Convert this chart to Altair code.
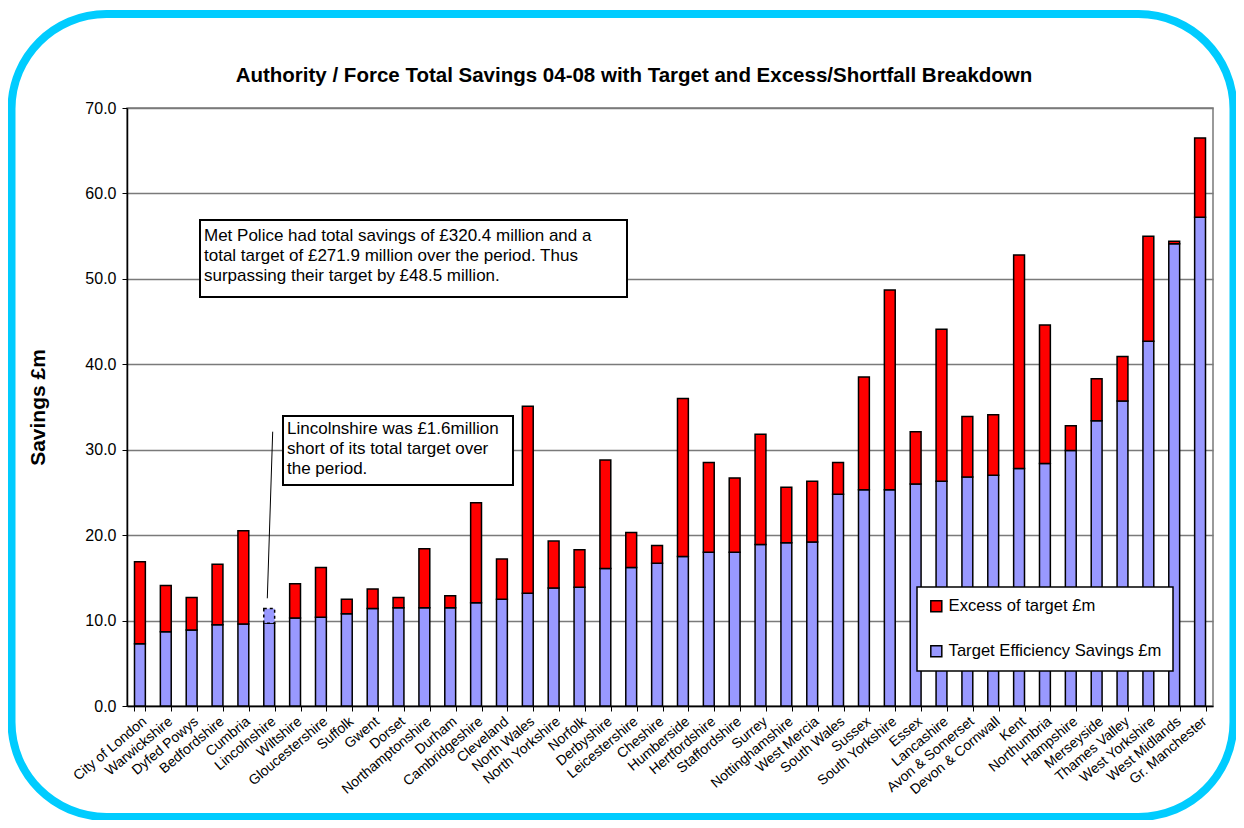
import altair as alt
import pandas as pd

forces = [
    "City of London", "Warwickshire", "Dyfed Powys", "Bedfordshire", "Cumbria",
    "Lincolnshire", "Wiltshire", "Gloucestershire", "Suffolk", "Gwent", "Dorset",
    "Northamptonshire", "Durham", "Cambridgeshire", "Cleveland", "North Wales",
    "North Yorkshire", "Norfolk", "Derbyshire", "Leicestershire", "Cheshire",
    "Humberside", "Hertfordshire", "Staffordshire", "Surrey", "Nottinghamshire",
    "West Mercia", "South Wales", "Sussex", "South Yorkshire", "Essex", "Lancashire",
    "Avon & Somerset", "Devon & Cornwall", "Kent", "Northumbria", "Hampshire",
    "Merseyside", "Thames Valley", "West Yorkshire", "West Midlands", "Gr. Manchester",
]
# Target efficiency savings (£m)
target = [
    7.3, 8.7, 8.9, 9.5, 9.6,
    11.4, 10.3, 10.4, 10.8, 11.4, 11.5,
    11.5, 11.5, 12.1, 12.5, 13.2,
    13.8, 13.9, 16.1, 16.2, 16.7,
    17.5, 18.0, 18.0, 18.9, 19.1,
    19.2, 24.8, 25.3, 25.3, 26.0, 26.3,
    26.8, 27.0, 27.8, 28.4, 29.9,
    33.4, 35.7, 42.7, 54.1, 57.2,
]
# Total savings achieved (£m)
total = [
    16.9, 14.1, 12.7, 16.6, 20.5,
    9.7, 14.3, 16.2, 12.5, 13.7, 12.7,
    18.4, 12.9, 23.8, 17.2, 35.1,
    19.3, 18.3, 28.8, 20.3, 18.8,
    36.0, 28.5, 26.7, 31.8, 25.6,
    26.3, 28.5, 38.5, 48.7, 32.1, 44.1,
    33.9, 34.1, 52.8, 44.6, 32.8,
    38.3, 40.9, 55.0, 54.4, 66.5,
]
series_names = ["Excess of target £m", "Target Efficiency Savings £m"]
series_colors = ["#FF0000", "#9999FF"]
y_ticks = [0, 10, 20, 30, 40, 50, 60, 70]

title_text = "Authority / Force Total Savings 04-08 with Target and Excess/Shortfall Breakdown"
y_title = "Savings £m"
met_note = ("Met Police had total savings of £320.4 million and a\n"
            "total target of £271.9 million over the period. Thus\n"
            "surpassing their target by £48.5 million.")
linc_note = ("Lincolnshire was £1.6million\n"
             "short of its total target over\n"
             "the period.")

FONT = "Liberation Sans"

# ---- data tables built from the arrays ----
rows = []
for f, t, s in zip(forces, target, total):
    rows.append({"force": f, "series": series_names[1], "value": min(t, s), "ord": 0})
    rows.append({"force": f, "series": series_names[0], "value": max(s - t, 0.0), "ord": 1})
bars_df = pd.DataFrame(rows)

short_df = pd.DataFrame([
    {"force": f, "lo": s, "hi": t}
    for f, t, s in zip(forces, target, total) if s < t
])

# Plot area geometry (pixels)
W, H = 1086, 598

xscale = alt.Scale(paddingInner=0.58, paddingOuter=0.29)
yscale = alt.Scale(domain=[0, 70], nice=False)

x_enc = alt.X(
    "force:N", sort=forces, scale=xscale,
    axis=alt.Axis(
        title=None, labelAngle=320, labelAlign="right", labelBaseline="top",
        labelFontSize=14, labelPadding=3, labelColor="black",
        tickBand="extent", tickSize=5, tickColor="black", tickWidth=1,
        domainColor="black", domainWidth=1.5, grid=False, labelOverlap=False,
    ),
)

bars = alt.Chart(bars_df).mark_bar(stroke="black", strokeWidth=1.5).encode(
    x=x_enc,
    y=alt.Y(
        "value:Q", stack="zero", scale=yscale,
        axis=alt.Axis(
            title=y_title, values=y_ticks, format=".1f",
            labelFontSize=16, labelColor="black", labelPadding=6,
            tickSize=5, tickColor="black", tickWidth=1,
            domainColor="black", domainWidth=1.5,
            grid=True, gridColor="#7a7a7a", gridWidth=1.5,
            titleFontSize=21, titleFontWeight="bold", titleColor="black",
            titleAngle=270, titleX=-89, titleY=H / 2,
            titleAlign="center", titleBaseline="middle",
        ),
    ),
    order=alt.Order("ord:Q", sort="ascending"),
    color=alt.Color(
        "series:N",
        scale=alt.Scale(domain=series_names, range=series_colors),
        legend=alt.Legend(
            title=None, orient="none", legendX=790, legendY=479,
            fillColor="white", strokeColor="black", padding=11,
            rowPadding=27, symbolType="square", symbolSize=121,
            symbolStrokeColor="black", symbolStrokeWidth=1.5,
            labelFontSize=16.6, labelOffset=4, labelColor="black", labelLimit=500,
        ),
    ),
)

shortfall = alt.Chart(short_df).mark_bar(
    fill="#9999FF", stroke="black", strokeWidth=1.5, strokeDash=[3, 3]
).encode(
    x=alt.X("force:N", sort=forces, scale=xscale),
    y=alt.Y("lo:Q", scale=yscale),
    y2="hi:Q",
)

one = pd.DataFrame({"k": [0]})

title_mark = alt.Chart(one).mark_text(
    font=FONT, fontSize=20.5, fontWeight="bold", color="black",
    align="center", baseline="middle",
).encode(x=alt.value(507), y=alt.value(-32), text=alt.value(title_text))

met_box = alt.Chart(one).mark_rect(fill="white", stroke="black", strokeWidth=2).encode(
    x=alt.value(73), x2=alt.value(500), y=alt.value(112), y2=alt.value(189))
met_text = alt.Chart(pd.DataFrame({"t": [met_note]})).mark_text(
    font=FONT, fontSize=17, color="black", align="left", baseline="middle",
    lineBreak="\n", lineHeight=20,
).encode(x=alt.value(77), y=alt.value(128), text="t:N")

linc_line = alt.Chart(one).mark_rule(color="black", strokeWidth=1).encode(
    x=alt.value(145.7), y=alt.value(323.7), x2=alt.value(140.3), y2=alt.value(490.3))
linc_box = alt.Chart(one).mark_rect(fill="white", stroke="black", strokeWidth=2).encode(
    x=alt.value(156), x2=alt.value(386), y=alt.value(308), y2=alt.value(377))
linc_text = alt.Chart(pd.DataFrame({"t": [linc_note]})).mark_text(
    font=FONT, fontSize=17, color="black", align="left", baseline="middle",
    lineBreak="\n", lineHeight=20,
).encode(x=alt.value(160), y=alt.value(321), text="t:N")

frame = alt.Chart(one).mark_rect(
    fill=None, filled=False, stroke="#00CCFF", strokeWidth=8, cornerRadius=95
).encode(x=alt.value(-115.5), x2=alt.value(1106.5), y=alt.value(-94), y2=alt.value(709))

chart = alt.layer(
    bars, shortfall, met_box, met_text, linc_line, linc_box, linc_text, title_mark, frame
).properties(
    width=W, height=H,
    autosize=alt.AutoSizeParams(type="none"),
    padding={"left": 119, "top": 100, "right": 23, "bottom": 114},
    background="white",
).configure(font=FONT).configure_view(
    stroke="#7a7a7a", strokeWidth=1.5
).configure_legend(strokeWidth=1.5)

chart.save("out.html", embed_options={"renderer": "svg", "actions": False})
